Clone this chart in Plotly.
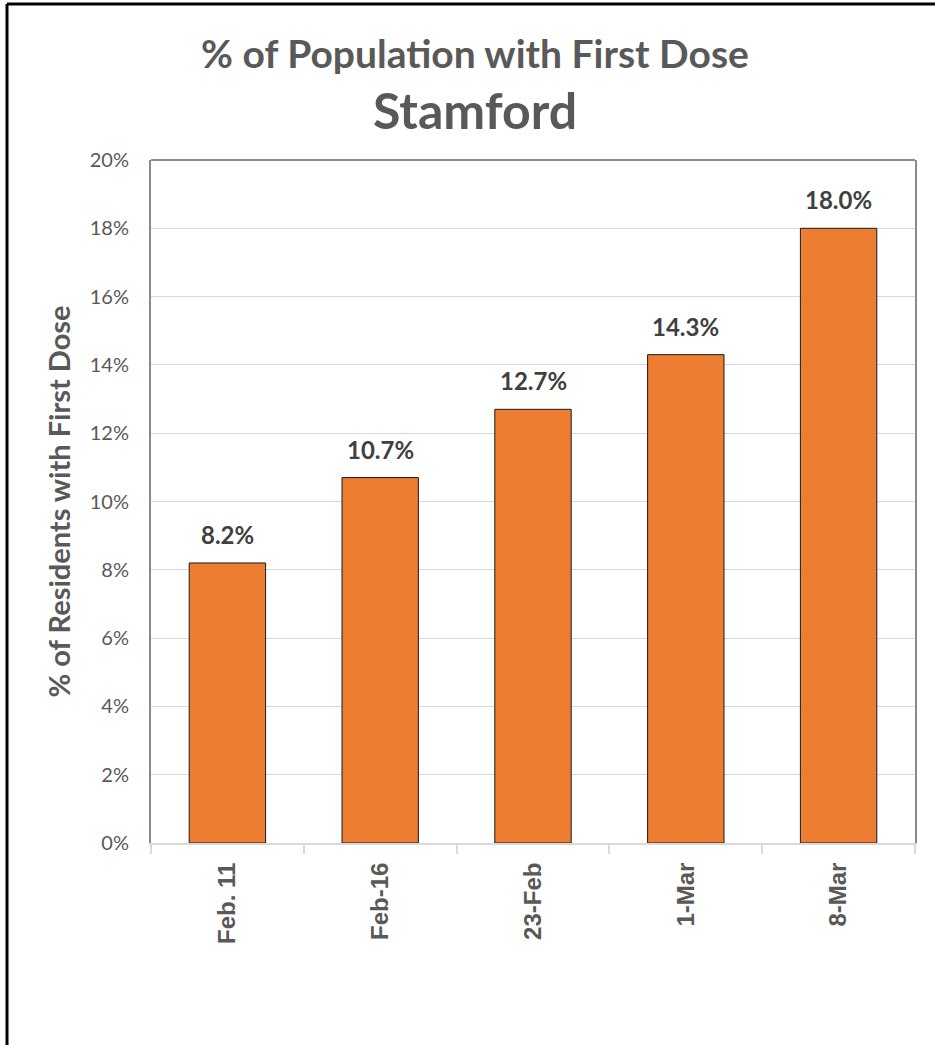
import plotly.graph_objects as go

categories = ["Feb. 11", "Feb-16", "23-Feb", "1-Mar", "8-Mar"]
pct_first_dose = [0.082, 0.107, 0.127, 0.143, 0.180]
y_tick_values = [0, 0.02, 0.04, 0.06, 0.08, 0.10, 0.12, 0.14, 0.16, 0.18, 0.20]
y_tick_labels = ["0%", "2%", "4%", "6%", "8%", "10%", "12%", "14%", "16%", "18%", "20%"]
title_text = "% of Population with First Dose"
subtitle_text = "Stamford"
y_title_text = "% of Residents with First Dose"

W, H = 935, 1045
ML, MR, MT, MB = 151, 20, 160, 202
PW, PH = W - ML - MR, H - MT - MB

CAL = "Lato, 'Open Sans', sans-serif"
GRAY = "#595959"

fig = go.Figure()
fig.add_trace(go.Bar(
    x=categories, y=pct_first_dose,
    marker=dict(color="#ED7D31", line=dict(color="#1a1a1a", width=1)),
    width=0.5, showlegend=False, hoverinfo="x+y",
))

for c, v in zip(categories, pct_first_dose):
    fig.add_annotation(x=c, y=v, text=f"<b>{v*100:.1f}%</b>", showarrow=False,
                       yanchor="bottom", yshift=12,
                       font=dict(family=CAL, size=24, color="#404040"))

fig.update_layout(
    width=W, height=H,
    margin=dict(l=ML, r=MR, t=MT, b=MB, autoexpand=False),
    paper_bgcolor="white", plot_bgcolor="white",
    title=dict(
        text=f"<b>{title_text}</b>",
        x=475 / W, xanchor="center", xref="container",
        y=1 - 54 / H, yanchor="middle",
        font=dict(family=CAL, size=39, color=GRAY),
    ),
    bargap=0.5,
)
fig.add_annotation(xref="paper", yref="paper", x=(475 - ML) / PW, y=1 + (MT - 110) / PH,
                   xanchor="center", yanchor="middle", showarrow=False,
                   text=f"<b>{subtitle_text}</b>",
                   font=dict(family=CAL, size=50, color=GRAY))

fig.update_yaxes(
    range=[0, 0.20], tickvals=y_tick_values, ticktext=y_tick_labels,
    showgrid=True, gridcolor="#d9d9d9", gridwidth=1,
    showline=True, linecolor="#8a8a8a", linewidth=2, mirror=True,
    ticks="", ticklabelstandoff=16, zeroline=False,
    tickfont=dict(family=CAL, size=20, color=GRAY),
    title=dict(text=f"<b>{y_title_text}</b>", standoff=11,
               font=dict(family=CAL, size=29, color=GRAY)),
    automargin=False,
)
fig.update_xaxes(
    showline=True, linecolor="#d9d9d9", linewidth=2,
    ticks="outside", tickson="boundaries", ticklen=9, tickcolor="#d9d9d9", tickwidth=2,
    tickangle=-90, ticklabelstandoff=8,
    tickfont=dict(family="'Liberation Sans', Arial, sans-serif", size=24, color=GRAY, weight="bold"),
    automargin=False,
)

# top frame line of plot area
fig.add_shape(type="line", xref="paper", yref="paper", x0=0, x1=1, y0=1, y1=1,
              line=dict(color="#8a8a8a", width=2))
# outer black border (left and top)
bx = (7 - ML) / PW
by = 1 + (MT - 4) / PH
fig.add_shape(type="line", xref="paper", yref="paper", x0=bx, x1=bx, y0=by, y1=1 + (MT - H) / PH - 0.01,
              line=dict(color="black", width=3))
fig.add_shape(type="line", xref="paper", yref="paper", x0=bx, x1=(W - ML) / PW + 0.01, y0=by, y1=by,
              line=dict(color="black", width=3))

fig.write_html("out.html", config={"displayModeBar": False},
               post_script="document.body.style.margin='0px';document.body.style.overflow='hidden';")
